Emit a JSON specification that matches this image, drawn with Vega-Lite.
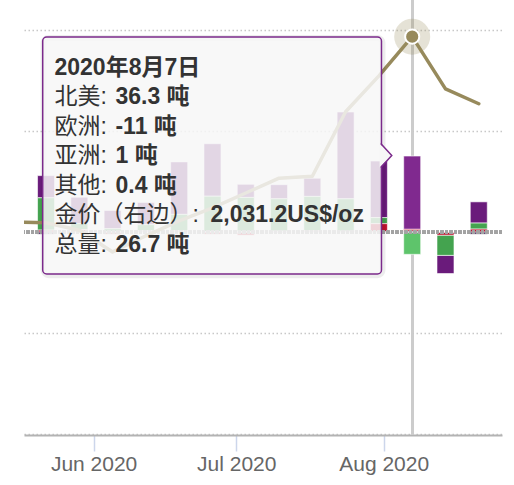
{
  "$schema": "https://vega.github.io/schema/vega-lite/v6.json",
  "width": 478,
  "height": 435,
  "autosize": "none",
  "padding": {"left": 24, "top": 0, "right": 12, "bottom": 50},
  "config": {"view": {"stroke": null}, "font": "Liberation Sans, Noto Sans CJK SC"},
  "datasets": {
    "flows": [
      {"date": "2020-05-22", "region": "北美", "tonnes": 11},
      {"date": "2020-05-22", "region": "欧洲", "tonnes": 16},
      {"date": "2020-05-22", "region": "亚洲", "tonnes": 1},
      {"date": "2020-05-22", "region": "其他", "tonnes": -1},
      {"date": "2020-05-29", "region": "北美", "tonnes": 13},
      {"date": "2020-05-29", "region": "欧洲", "tonnes": 3},
      {"date": "2020-05-29", "region": "亚洲", "tonnes": 1},
      {"date": "2020-05-29", "region": "其他", "tonnes": 0.3},
      {"date": "2020-06-05", "region": "北美", "tonnes": 9},
      {"date": "2020-06-05", "region": "欧洲", "tonnes": 1.5},
      {"date": "2020-06-05", "region": "亚洲", "tonnes": -1},
      {"date": "2020-06-05", "region": "其他", "tonnes": 0.2},
      {"date": "2020-06-12", "region": "北美", "tonnes": 11},
      {"date": "2020-06-12", "region": "欧洲", "tonnes": 3},
      {"date": "2020-06-12", "region": "亚洲", "tonnes": 0.5},
      {"date": "2020-06-12", "region": "其他", "tonnes": 0.2},
      {"date": "2020-06-19", "region": "北美", "tonnes": 26},
      {"date": "2020-06-19", "region": "欧洲", "tonnes": 8},
      {"date": "2020-06-19", "region": "亚洲", "tonnes": 0.5},
      {"date": "2020-06-19", "region": "其他", "tonnes": 0.3},
      {"date": "2020-06-26", "region": "北美", "tonnes": 26},
      {"date": "2020-06-26", "region": "欧洲", "tonnes": 17.5},
      {"date": "2020-06-26", "region": "亚洲", "tonnes": -1},
      {"date": "2020-06-26", "region": "其他", "tonnes": 0.3},
      {"date": "2020-07-03", "region": "北美", "tonnes": 6.5},
      {"date": "2020-07-03", "region": "欧洲", "tonnes": 17},
      {"date": "2020-07-03", "region": "亚洲", "tonnes": -1.5},
      {"date": "2020-07-03", "region": "其他", "tonnes": 0.2},
      {"date": "2020-07-10", "region": "北美", "tonnes": 7},
      {"date": "2020-07-10", "region": "欧洲", "tonnes": 16},
      {"date": "2020-07-10", "region": "亚洲", "tonnes": 0.3},
      {"date": "2020-07-10", "region": "其他", "tonnes": 0.2},
      {"date": "2020-07-17", "region": "北美", "tonnes": 9},
      {"date": "2020-07-17", "region": "欧洲", "tonnes": 17},
      {"date": "2020-07-17", "region": "亚洲", "tonnes": 0.5},
      {"date": "2020-07-17", "region": "其他", "tonnes": 0.2},
      {"date": "2020-07-24", "region": "北美", "tonnes": 43},
      {"date": "2020-07-24", "region": "欧洲", "tonnes": 16},
      {"date": "2020-07-24", "region": "亚洲", "tonnes": 0.3},
      {"date": "2020-07-24", "region": "其他", "tonnes": 0.2},
      {"date": "2020-07-31", "region": "北美", "tonnes": 28},
      {"date": "2020-07-31", "region": "欧洲", "tonnes": 3},
      {"date": "2020-07-31", "region": "亚洲", "tonnes": 4},
      {"date": "2020-07-31", "region": "其他", "tonnes": 0.2},
      {"date": "2020-08-07", "region": "北美", "tonnes": 36.3},
      {"date": "2020-08-07", "region": "欧洲", "tonnes": -11},
      {"date": "2020-08-07", "region": "亚洲", "tonnes": 1},
      {"date": "2020-08-07", "region": "其他", "tonnes": 0.4},
      {"date": "2020-08-14", "region": "北美", "tonnes": -9},
      {"date": "2020-08-14", "region": "欧洲", "tonnes": -10},
      {"date": "2020-08-14", "region": "亚洲", "tonnes": -1.5},
      {"date": "2020-08-14", "region": "其他", "tonnes": 0},
      {"date": "2020-08-21", "region": "北美", "tonnes": 10.5},
      {"date": "2020-08-21", "region": "欧洲", "tonnes": 3},
      {"date": "2020-08-21", "region": "亚洲", "tonnes": 1.5},
      {"date": "2020-08-21", "region": "其他", "tonnes": -1}
    ],
    "gold": [
      {"date": "2020-05-15", "price": 1732},
      {"date": "2020-05-22", "price": 1731},
      {"date": "2020-05-29", "price": 1719},
      {"date": "2020-06-05", "price": 1684},
      {"date": "2020-06-12", "price": 1710},
      {"date": "2020-06-19", "price": 1734},
      {"date": "2020-06-26", "price": 1755},
      {"date": "2020-07-03", "price": 1779},
      {"date": "2020-07-10", "price": 1803},
      {"date": "2020-07-17", "price": 1806},
      {"date": "2020-07-24", "price": 1910},
      {"date": "2020-07-31", "price": 1968},
      {"date": "2020-08-07", "price": 2031.2},
      {"date": "2020-08-14", "price": 1947},
      {"date": "2020-08-21", "price": 1923}
    ],
    "tip": [
      {
        "title": "2020年8月7日",
        "labels": ["北美:", "欧洲:", "亚洲:", "其他:", "金价（右边）:", "总量:"],
        "values": ["36.3 吨", "-11 吨", "1 吨", "0.4 吨"],
        "price": "2,031.2US$/oz",
        "total": "26.7 吨"
      }
    ]
  },
  "layer": [
    {
      "data": {"name": "flows"},
      "layer": [
        {
          "mark": {"type": "rule", "color": "#cccccc", "strokeWidth": 2},
          "encoding": {"x": {"datum": {"year": 2020, "month": 8, "date": 7, "utc": true}}}
        },
        {
          "transform": [
            {"calculate": "utcmonth(datum.date) == 7 && utcdate(datum.date) == 7 ? datum.region + '*' : datum.region", "as": "key"},
            {"calculate": "indexof(['其他', '亚洲', '欧洲', '北美'], datum.region)", "as": "ord"}
          ],
          "mark": {"type": "bar", "size": 17, "stroke": "#ffffff", "strokeWidth": 0.6},
          "encoding": {
            "x": {
              "field": "date", "type": "temporal",
              "scale": {
                "type": "utc",
                "domain": [
                  {"year": 2020, "month": 5, "date": 18, "hours": 10, "utc": true},
                  {"year": 2020, "month": 8, "date": 24, "hours": 20, "utc": true}
                ]
              },
              "axis": {
                "values": [
                  {"year": 2020, "month": 6, "date": 1, "utc": true},
                  {"year": 2020, "month": 7, "date": 1, "utc": true},
                  {"year": 2020, "month": 8, "date": 1, "utc": true}
                ],
                "format": "%b %Y", "title": null, "grid": false,
                "labelFontSize": 21, "labelColor": "#666666", "labelPadding": 2, "labelFlush": false,
                "tickColor": "#ccd6eb", "tickSize": 16, "tickWidth": 1.5,
                "domainColor": "#b3b3b3", "domainWidth": 2
              }
            },
            "y": {
              "field": "tonnes", "type": "quantitative", "stack": "zero",
              "scale": {"domain": [-100.5, 115], "nice": false},
              "axis": {
                "values": [-100, -50, 50, 100], "labels": false, "ticks": false, "domain": false, "title": null,
                "gridColor": "#c8c8c8", "gridDash": [1.5, 2.5], "gridWidth": 1.5
              }
            },
            "color": {
              "field": "key", "type": "nominal", "legend": null,
              "scale": {
                "domain": ["北美", "欧洲", "亚洲", "其他", "北美*", "欧洲*", "亚洲*", "其他*"],
                "range": ["#6a1b7b", "#44a34f", "#c0132f", "#3b1552", "#80298f", "#5ec46b", "#d8203f", "#4e2166"]
              }
            },
            "order": {"field": "ord", "type": "quantitative"}
          }
        },
        {
          "mark": {"type": "rule", "color": "#a3a3a3", "strokeWidth": 3, "strokeDash": [3, 1.5]},
          "encoding": {"y": {"datum": 0}}
        }
      ]
    },
    {
      "data": {"name": "gold"},
      "encoding": {
        "x": {"field": "date", "type": "temporal"},
        "y": {
          "field": "price", "type": "quantitative",
          "scale": {"domain": [1388.7, 2090.3], "nice": false, "zero": false},
          "axis": {
            "orient": "right", "values": [2000], "format": ",", "title": null,
            "grid": false, "ticks": false, "domain": false,
            "labelColor": "#e8892a", "labelFontSize": 21, "labelPadding": 11
          }
        }
      },
      "layer": [
        {"mark": {"type": "line", "color": "#978a5c", "strokeWidth": 3.5, "clip": true, "strokeCap": "round", "strokeJoin": "round"}},
        {
          "transform": [{"filter": "utcmonth(datum.date) == 7 && utcdate(datum.date) == 7"}],
          "mark": {"type": "point", "shape": "circle", "filled": true, "size": 1296, "color": "#978a5c", "opacity": 0.25}
        },
        {
          "transform": [{"filter": "utcmonth(datum.date) == 7 && utcdate(datum.date) == 7"}],
          "mark": {"type": "point", "shape": "circle", "filled": true, "size": 200, "color": "#978a5c", "opacity": 1, "stroke": "#ffffff", "strokeWidth": 2}
        }
      ]
    },
    {
      "data": {"name": "tip"},
      "encoding": {
        "x": {"datum": {"year": 2020, "month": 5, "date": 23, "hours": 18, "minutes": 30, "utc": true}},
        "y": {"datum": 86.77, "scale": {"domain": [-100.5, 115], "nice": false}, "axis": null}
      },
      "layer": [
        {
          "mark": {"type": "rect", "fill": "none", "stroke": "#000000", "strokeOpacity": 0.07, "strokeWidth": 6, "cornerRadius": 5},
          "encoding": {
            "x": {"datum": {"year": 2020, "month": 5, "date": 21, "hours": 12, "utc": true}},
            "x2": {"datum": {"year": 2020, "month": 7, "date": 31, "hours": 18, "utc": true}},
            "y": {"datum": 96.2},
            "y2": {"datum": -21.3}
          }
        },
        {
          "mark": {"type": "rect", "fill": "#f7f7f7", "fillOpacity": 0.85, "stroke": "#7b2a8b", "strokeWidth": 1.5, "cornerRadius": 4},
          "encoding": {
            "x": {"datum": {"year": 2020, "month": 5, "date": 21, "hours": 7, "minutes": 10, "utc": true}},
            "x2": {"datum": {"year": 2020, "month": 7, "date": 31, "hours": 12, "minutes": 54, "utc": true}},
            "y": {"datum": 96.67},
            "y2": {"datum": -20.74}
          }
        },
        {
          "mark": {"type": "point", "shape": "M -0.55 -1 L 0.46 0 L -0.55 1 Z", "size": 576, "filled": true, "fill": "#f7f7f7", "opacity": 1, "strokeWidth": 0},
          "encoding": {
            "x": {"datum": {"year": 2020, "month": 8, "date": 1, "hours": 13, "utc": true}},
            "y": {"datum": 38}
          }
        },
        {
          "mark": {"type": "point", "shape": "M -0.46 -1 L 0.46 0 L -0.46 1", "size": 576, "filled": false, "fill": "transparent", "color": "#7b2a8b", "opacity": 1, "strokeWidth": 1.5},
          "encoding": {
            "x": {"datum": {"year": 2020, "month": 8, "date": 1, "hours": 13, "utc": true}},
            "y": {"datum": 38}
          }
        },
        {
          "mark": {"type": "text", "align": "left", "baseline": "top", "fontSize": 23, "fontWeight": "bold", "color": "#333333"},
          "encoding": {"text": {"field": "title", "type": "nominal"}}
        },
        {
          "mark": {"type": "text", "align": "left", "baseline": "top", "fontSize": 23, "lineHeight": 29.5, "dy": 29.5, "color": "#333333"},
          "encoding": {"text": {"field": "labels", "type": "nominal"}}
        },
        {
          "mark": {"type": "text", "align": "left", "baseline": "top", "fontSize": 23, "fontWeight": "bold", "lineHeight": 29.5, "dx": 61, "dy": 29.5, "color": "#333333"},
          "encoding": {"text": {"field": "values", "type": "nominal"}}
        },
        {
          "mark": {"type": "text", "align": "left", "baseline": "top", "fontSize": 23, "fontWeight": "bold", "dx": 156, "dy": 147.5, "color": "#333333"},
          "encoding": {"text": {"field": "price", "type": "nominal"}}
        },
        {
          "mark": {"type": "text", "align": "left", "baseline": "top", "fontSize": 23, "fontWeight": "bold", "dx": 61, "dy": 177, "color": "#333333"},
          "encoding": {"text": {"field": "total", "type": "nominal"}}
        }
      ]
    }
  ],
  "resolve": {"scale": {"y": "independent"}}
}
